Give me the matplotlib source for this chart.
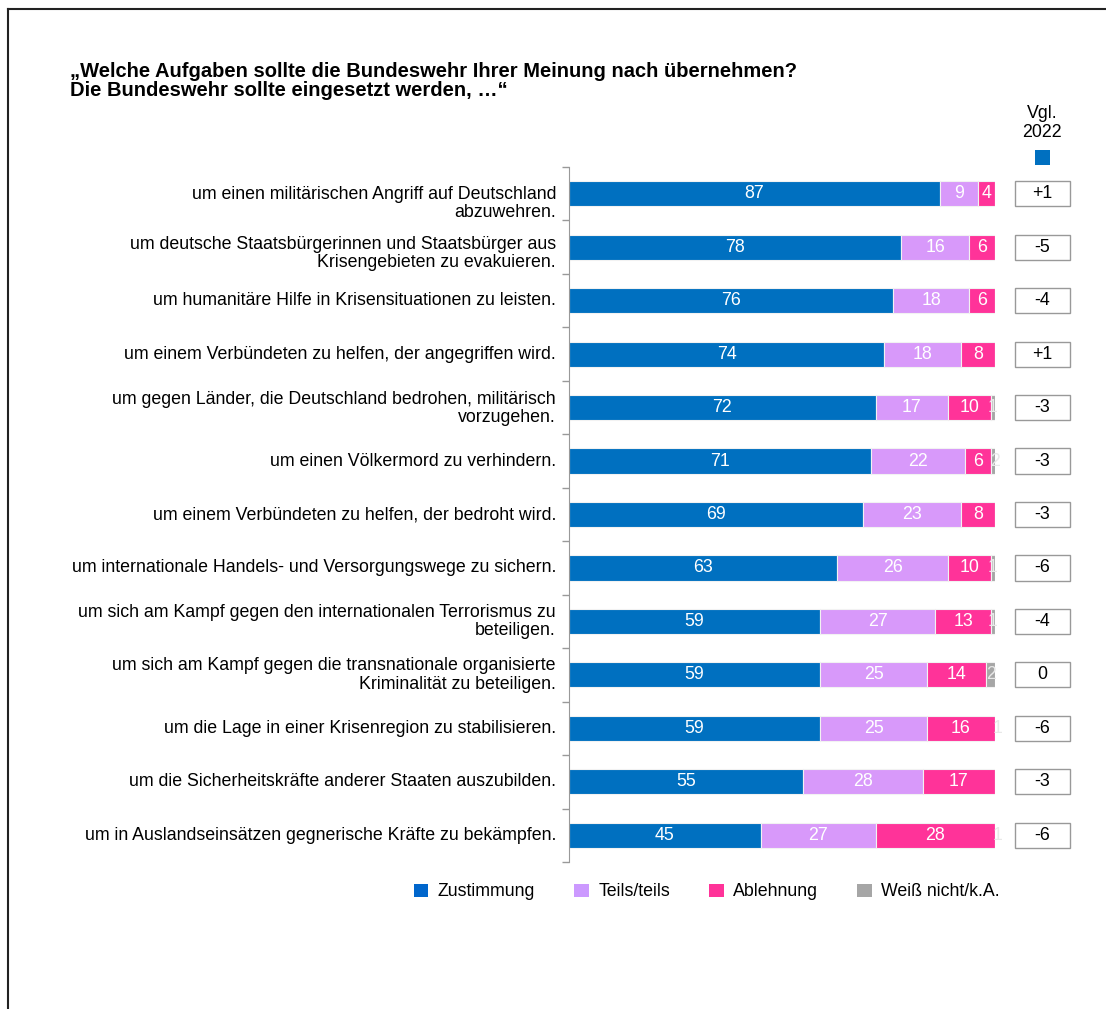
import numpy as np
import matplotlib
matplotlib.use('Agg')
import matplotlib.pyplot as plt
from matplotlib.patches import Patch, Rectangle
from matplotlib.lines import Line2D
from matplotlib.transforms import blended_transform_factory

plt.rcParams['font.family'] = ['Liberation Sans', 'DejaVu Sans']

labels = [
    'um einen militärischen Angriff auf Deutschland\nabzuwehren.',
    'um deutsche Staatsbürgerinnen und Staatsbürger aus\nKrisengebieten zu evakuieren.',
    'um humanitäre Hilfe in Krisensituationen zu leisten.',
    'um einem Verbündeten zu helfen, der angegriffen wird.',
    'um gegen Länder, die Deutschland bedrohen, militärisch\nvorzugehen.',
    'um einen Völkermord zu verhindern.',
    'um einem Verbündeten zu helfen, der bedroht wird.',
    'um internationale Handels- und Versorgungswege zu sichern.',
    'um sich am Kampf gegen den internationalen Terrorismus zu\nbeteiligen.',
    'um sich am Kampf gegen die transnationale organisierte\nKriminalität zu beteiligen.',
    'um die Lage in einer Krisenregion zu stabilisieren.',
    'um die Sicherheitskräfte anderer Staaten auszubilden.',
    'um in Auslandseinsätzen gegnerische Kräfte zu bekämpfen.',
]
zustimmung = [87, 78, 76, 74, 72, 71, 69, 63, 59, 59, 59, 55, 45]
teils = [9, 16, 18, 18, 17, 22, 23, 26, 27, 25, 25, 28, 27]
ablehnung = [4, 6, 6, 8, 10, 6, 8, 10, 13, 14, 16, 17, 28]
weiss = [0, 0, 0, 0, 1, 2, 0, 1, 1, 2, 1, 0, 1]
vgl_2022 = ['+1', '-5', '-4', '+1', '-3', '-3', '-3', '-6', '-4', '0', '-6', '-3', '-6']

series = [('Zustimmung', zustimmung, '#0070C0'),
          ('Teils/teils', teils, '#D899FA'),
          ('Ablehnung', ablehnung, '#FF3399'),
          ('Weiß nicht/k.A.', weiss, '#A6A6A6')]
legend_colors = ['#0066CC', '#CC99FF', '#FF3399', '#A6A6A6']

FS = 12.8
W, H = 1106, 1009
fig = plt.figure(figsize=(W / 100, H / 100), dpi=100)
ax = fig.add_axes([569 / W, 1 - 862 / H, 426 / W, 695 / H])

y = np.arange(len(labels))
left = np.zeros(len(labels))
for name, vals, col in series:
    vals = np.array(vals, dtype=float)
    bars = ax.barh(y, vals, left=left, height=0.47, color=col,
                   edgecolor='#F2F2F2', linewidth=0.8)
    for b, v, l in zip(bars, vals, left):
        if v <= 0:
            continue
        t = ax.text(l + v / 2, b.get_y() + b.get_height() / 2, f'{v:.0f}',
                    ha='center', va='center',
                    color='white' if col != '#A6A6A6' else '#E8E8E8', fontsize=FS)
        t.set_clip_path(b)
    left += vals

ax.set_xlim(0, 100)
ax.set_ylim(len(labels) - 0.5, -0.5)
ax.set_xticks([])
ax.set_yticks([])
ax.set_yticks(np.arange(-0.5, len(labels)), minor=True)
ax.tick_params(axis='y', which='minor', length=5, color='#999999', width=1)
for s in ['top', 'right', 'bottom']:
    ax.spines[s].set_visible(False)
ax.spines['left'].set_color('#999999')

# category labels (first two rows sit a bit lower, as in the original)
tr_lab = blended_transform_factory(fig.transFigure, ax.transData)
shift = [0.18, 0.12, 0, 0, 0.02, 0, 0, 0, 0, 0, 0, 0, 0]
for yi, lab, sh in zip(y, labels, shift):
    ax.text(556 / W, yi + sh, lab, transform=tr_lab, ha='right', va='center',
            fontsize=FS, linespacing=1.12, multialignment='right')

# comparison boxes
for yi, v in zip(y, vgl_2022):
    ax.add_patch(Rectangle((1015 / W, yi - 0.235), 55 / W, 0.47, transform=tr_lab,
                           facecolor='white', edgecolor='#999999', lw=1, clip_on=False))
    ax.text(1042.5 / W, yi, v, transform=tr_lab, ha='center', va='center', fontsize=FS)

fig.text(1042 / W, 1 - 123 / H, 'Vgl.\n2022', ha='center', va='center', fontsize=FS,
         linespacing=1.2)
fig.add_artist(Rectangle((1035 / W, 1 - 165 / H), 15 / W, 15 / H, transform=fig.transFigure,
                         facecolor='#0070C0', edgecolor='none'))

fig.text(70 / W, 1 - 81 / H,
         '„Welche Aufgaben sollte die Bundeswehr Ihrer Meinung nach übernehmen?\n'
         'Die Bundeswehr sollte eingesetzt werden, …“',
         ha='left', va='center', fontsize=14.5, fontweight='bold', linespacing=1.0)

handles = [Patch(facecolor=c, edgecolor='none', label=s[0])
           for s, c in zip(series, legend_colors)]
fig.legend(handles=handles, loc='center', bbox_to_anchor=(707 / W, 1 - 892 / H), ncol=4,
           frameon=False, fontsize=FS, handlelength=0.8, handleheight=0.8,
           handletextpad=0.55, columnspacing=2.2)

# outer frame
fig.add_artist(Line2D([8 / W, 8 / W], [0, 1 - 9 / H], color='#222222', lw=1.5))
fig.add_artist(Line2D([8 / W, 1], [1 - 9 / H, 1 - 9 / H], color='#222222', lw=1.5))

fig.savefig('out.png', dpi=100)
